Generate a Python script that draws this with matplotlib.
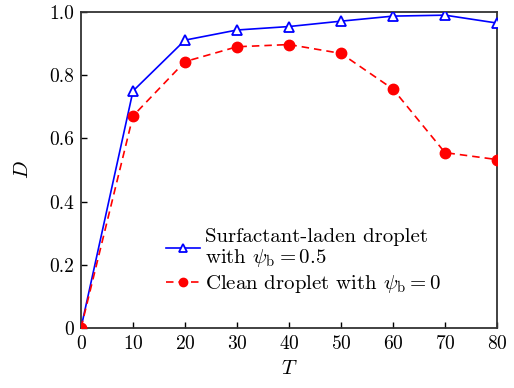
import matplotlib
matplotlib.use("Agg")
import matplotlib.pyplot as plt

T = [0, 10, 20, 30, 40, 50, 60, 70, 80]
D_surf = [0.0, 0.750, 0.911, 0.943, 0.954, 0.971, 0.987, 0.990, 0.965]
D_clean = [0.0, 0.671, 0.843, 0.890, 0.897, 0.869, 0.756, 0.555, 0.533]
xticks = [0, 10, 20, 30, 40, 50, 60, 70, 80]
yticks = [0, 0.2, 0.4, 0.6, 0.8, 1.0]
ytick_labels = ["0", "0.2", "0.4", "0.6", "0.8", "1.0"]

plt.rcParams['font.family'] = 'serif'
plt.rcParams['font.serif'] = ['cmr10', 'DejaVu Serif']
plt.rcParams['mathtext.fontset'] = 'cm'
plt.rcParams['axes.formatter.use_mathtext'] = True

fig = plt.figure(figsize=(5.14, 3.88), dpi=100)
ax = fig.add_axes([81/514, 1-328/388, (497-81)/514, (328-12)/388])

ax.plot(T, D_surf, '-', color='blue', lw=1.2, marker='^', markersize=6.5,
        markerfacecolor='white', markeredgecolor='blue', markeredgewidth=1.3,
        label='Surfactant-laden droplet\nwith $\\psi_{\\rm b}=0.5$', zorder=3)
ax.plot(T, D_clean, '--', color='red', lw=1.2, marker='o', markersize=7.5,
        markerfacecolor='red', markeredgecolor='red', dashes=(4.5, 3),
        label='Clean droplet with $\\psi_{\\rm b}=0$', zorder=3)

ax.set_xlim(0, 80)
ax.set_ylim(0, 1.0)
ax.set_xticks(xticks)
ax.set_yticks(yticks)
ax.set_yticklabels(ytick_labels)
ax.tick_params(direction='in', length=4, width=1, labelsize=14, top=False, right=False, pad=5)
for s in ax.spines.values():
    s.set_linewidth(1.3)
    s.set_color('#333333')
ax.set_xlabel('$T$', fontsize=15, labelpad=5)
ax.set_ylabel('$D$', fontsize=15, labelpad=12)

leg = ax.legend(loc='lower left', bbox_to_anchor=(0.205, 0.105), frameon=False,
                prop={'size': 15}, handlelength=1.6, handletextpad=0.25, labelspacing=0.2,
                borderaxespad=0, borderpad=0, markerscale=0.8)
for t in leg.get_texts():
    t.set_linespacing(1.05)

fig.savefig('out.png', dpi=100)
